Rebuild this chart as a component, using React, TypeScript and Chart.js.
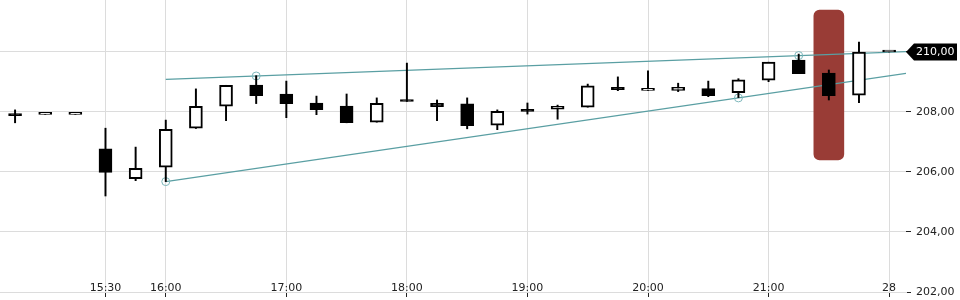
import React, { useEffect, useRef } from 'react';
import { Chart, registerables } from 'chart.js';

Chart.register(...registerables);

// 15-minute candles (index 0..29)
const opens = [207.93, 207.92, 207.92, 206.77, 205.78, 206.16, 207.46, 208.19, 208.90, 208.60, 208.30, 208.20, 207.66, 208.37, 208.29, 208.27, 207.56, 208.06, 208.09, 208.16, 208.82, 208.72, 208.72, 208.78, 208.64, 209.06, 209.73, 209.30, 208.56, 210.00];
const highs = [208.07, 207.92, 207.92, 207.46, 206.83, 207.73, 208.77, 208.89, 209.21, 209.03, 208.53, 208.60, 208.47, 209.63, 208.40, 208.47, 208.07, 208.30, 208.23, 208.93, 209.17, 209.37, 208.96, 209.03, 209.11, 209.66, 209.93, 209.40, 210.33, 210.00];
const lows = [207.64, 207.92, 207.92, 205.20, 205.71, 205.68, 207.45, 207.71, 208.28, 207.81, 207.91, 207.64, 207.66, 208.35, 207.71, 207.44, 207.41, 207.93, 207.76, 208.16, 208.71, 208.72, 208.68, 208.51, 208.48, 209.01, 209.28, 208.40, 208.31, 210.00];
const closes = [207.88, 207.92, 207.92, 205.99, 206.12, 207.42, 208.19, 208.89, 208.54, 208.28, 208.08, 207.64, 208.29, 208.35, 208.18, 207.54, 208.02, 208.02, 208.19, 208.87, 208.74, 208.79, 208.82, 208.54, 209.07, 209.66, 209.28, 208.54, 210.00, 210.00];

const xTickIndex = [3, 5, 9, 13, 17, 21, 25, 29];
const xTickLabels = ['15:30', '16:00', '17:00', '18:00', '19:00', '20:00', '21:00', '28'];
const yTicks = [202, 204, 206, 208, 210];

const X_MIN = -0.5;
const X_MAX = 29.56;
const Y_MIN = 202;
const Y_MAX = 211.733;

const trendUpper = [{ x: 5, y: 209.09 }, { x: X_MAX, y: 210.01 }];
const trendLower = [{ x: 5, y: 205.68 }, { x: X_MAX, y: 209.29 }];
const pivots = [{ x: 5, y: 205.68 }, { x: 8, y: 209.2 }, { x: 24, y: 208.47 }, { x: 26, y: 209.88 }];

const highlightIndex = 27;
const highlightRange = [206.4, 211.4];

const fmt = (v: number) => v.toFixed(2).replace('.', ',');

const FONT = '"DejaVu Sans", sans-serif';

const xLabelPlugin = {
  id: 'xLabels',
  afterDatasetsDraw(chart: any) {
    const { ctx, chartArea, scales } = chart;
    const xs = scales.x;
    ctx.save();
    ctx.font = `11px ${FONT}`;
    ctx.fillStyle = '#222';
    ctx.textAlign = 'center';
    ctx.textBaseline = 'alphabetic';
    xTickIndex.forEach((v, i) => {
      ctx.fillText(xTickLabels[i], xs.getPixelForValue(v), chartArea.bottom - 1);
    });
    ctx.restore();
  },
};

const priceTagPlugin = {
  id: 'priceTag',
  afterDraw(chart: any) {
    const { ctx, chartArea, scales } = chart;
    const last = closes[closes.length - 1];
    const y = Math.round(scales.y.getPixelForValue(last));
    const tip = chartArea.right;
    const h = 8.5;
    ctx.save();
    ctx.fillStyle = '#000';
    ctx.beginPath();
    ctx.moveTo(tip, y);
    ctx.lineTo(tip + 8, y - h);
    ctx.lineTo(957, y - h);
    ctx.lineTo(957, y + h);
    ctx.lineTo(tip + 8, y + h);
    ctx.closePath();
    ctx.fill();
    ctx.fillStyle = '#fff';
    ctx.font = `11px ${FONT}`;
    ctx.textAlign = 'left';
    ctx.textBaseline = 'middle';
    ctx.fillText(fmt(last), tip + 10, y + 0.5);
    ctx.restore();
  },
};

export default function App() {
  const ref = useRef<HTMLCanvasElement | null>(null);

  useEffect(() => {
    if (!ref.current) return;
    Chart.defaults.font.family = FONT;
    Chart.defaults.font.size = 11;

    const bodyColors = opens.map((o, i) => (closes[i] >= o ? '#ffffff' : '#000000'));

    const chart = new Chart(ref.current, {
      type: 'bar',
      data: {
        datasets: [
          {
            type: 'bar',
            label: 'highlight',
            data: [{ x: highlightIndex, y: highlightRange }],
            backgroundColor: '#993c36',
            borderWidth: 0,
            borderRadius: 6,
            borderSkipped: false,
            grouped: false,
            categoryPercentage: 1,
            barPercentage: 1,
            maxBarThickness: 30,
            order: 5,
          } as any,
          {
            type: 'line',
            label: 'upper',
            data: trendUpper,
            borderColor: '#5a9fa3',
            borderWidth: 1.2,
            pointRadius: 0,
            fill: false,
            order: 4,
          } as any,
          {
            type: 'line',
            label: 'lower',
            data: trendLower,
            borderColor: '#5a9fa3',
            borderWidth: 1.2,
            pointRadius: 0,
            fill: false,
            order: 4,
          } as any,
          {
            type: 'scatter',
            label: 'pivots',
            data: pivots,
            pointRadius: 4,
            pointBorderWidth: 1,
            pointBorderColor: '#7db7bb',
            pointBackgroundColor: 'rgba(0,0,0,0)',
            order: 3,
          } as any,
          {
            type: 'bar',
            label: 'wicks',
            data: lows.map((l, i) => ({ x: i, y: [l, highs[i]] })),
            backgroundColor: '#000',
            borderWidth: 0,
            grouped: false,
            categoryPercentage: 1,
            barPercentage: 1,
            maxBarThickness: 1.3,
            order: 2,
          } as any,
          {
            type: 'bar',
            label: 'bodies',
            data: opens.map((o, i) => ({ x: i, y: [o, closes[i]] })),
            backgroundColor: bodyColors,
            borderColor: '#000',
            borderWidth: 2,
            borderSkipped: false,
            minBarLength: 2,
            grouped: false,
            categoryPercentage: 1,
            barPercentage: 1,
            maxBarThickness: 13,
            order: 1,
          } as any,
        ],
      },
      options: {
        responsive: false,
        maintainAspectRatio: false,
        animation: false,
        devicePixelRatio: 1,
        layout: { padding: 0, autoPadding: false },
        plugins: {
          legend: { display: false },
          tooltip: { enabled: false },
        },
        scales: {
          x: {
            type: 'linear',
            offset: false,
            min: X_MIN,
            max: X_MAX,
            afterBuildTicks: (s: any) => {
              s.ticks = xTickIndex.map((v) => ({ value: v }));
            },
            afterFit: (s: any) => {
              s.height = 8;
              s.paddingLeft = 0;
              s.paddingRight = 0;
            },
            ticks: { display: false },
            grid: {
              offset: false,
              color: '#dcdcdc',
              tickColor: '#222',
              tickLength: 5,
              lineWidth: 1,
            },
            border: { display: true, color: '#dcdcdc' },
          },
          y: {
            type: 'linear',
            position: 'right',
            min: Y_MIN,
            max: Y_MAX,
            afterBuildTicks: (s: any) => {
              s.ticks = yTicks.map((v) => ({ value: v }));
            },
            afterFit: (s: any) => {
              s.width = 54;
              s.paddingTop = 0;
              s.paddingBottom = 0;
            },
            ticks: {
              callback: (v: any) => fmt(Number(v)),
              color: '#222',
              padding: 5,
              font: { size: 11, family: FONT },
            },
            grid: {
              color: '#dcdcdc',
              tickColor: '#222',
              tickLength: 5,
              lineWidth: 1,
            },
            border: { display: false },
          },
        },
      } as any,
      plugins: [xLabelPlugin, priceTagPlugin],
    });

    return () => chart.destroy();
  }, []);

  return (
    <div style={{ position: 'absolute', left: 0, top: 0, width: 960, height: 300 }}>
      <canvas ref={ref} width={960} height={300} style={{ width: 960, height: 300 }} />
    </div>
  );
}
